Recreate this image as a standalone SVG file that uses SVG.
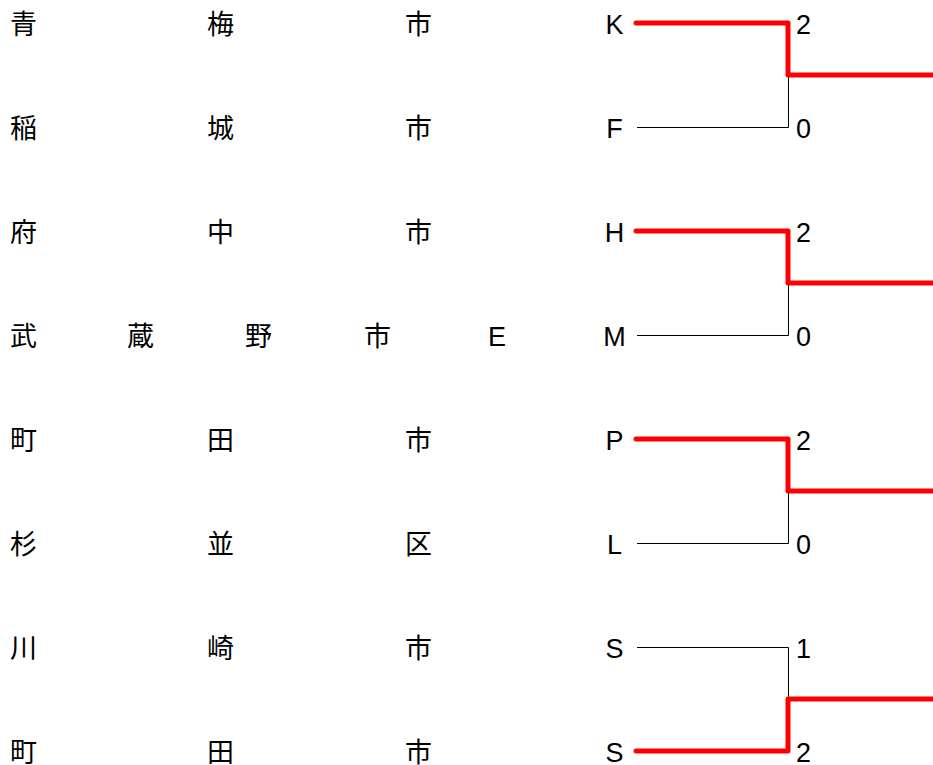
<svg xmlns="http://www.w3.org/2000/svg" width="933" height="765" viewBox="0 0 933 765">
<style>
.t{font-family:"Liberation Sans","Noto Sans CJK JP",sans-serif;font-size:27px;fill:#000}
.c{text-anchor:middle}
.w{fill:none;stroke:#ff0000;stroke-width:5;stroke-linecap:round;stroke-linejoin:round}
.l{fill:none;stroke:#000;stroke-width:1}
</style>
<rect width="933" height="765" fill="#fff"/>
<g id="connectors">
<polyline class="l" points="637,127.5 788.5,127.5 788.5,75"/>
<polyline class="w" points="636,23 788,23 788,75 933,75"/>
<polyline class="l" points="637,335.5 788.5,335.5 788.5,283"/>
<polyline class="w" points="636,231 788,231 788,283 933,283"/>
<polyline class="l" points="637,543.5 788.5,543.5 788.5,491"/>
<polyline class="w" points="636,439 788,439 788,491 933,491"/>
<polyline class="l" points="637,647.5 788.5,647.5 788.5,699"/>
<polyline class="w" points="636,751 788,751 788,699 933,699"/>
</g>
<g id="row1"><text class="t" x="10 207 405" y="34">青梅市</text><text class="t c" x="614.5" y="34">K</text><text class="t" x="796" y="34">2</text></g>
<g id="row2"><text class="t" x="10 207 405" y="138">稲城市</text><text class="t c" x="614.5" y="138">F</text><text class="t" x="796" y="138">0</text></g>
<g id="row3"><text class="t" x="10 207 405" y="242">府中市</text><text class="t c" x="614.5" y="242">H</text><text class="t" x="796" y="242">2</text></g>
<g id="row4"><text class="t" x="10 127 245 364" y="346">武蔵野市</text><text class="t c" x="497" y="346">E</text><text class="t c" x="614.5" y="346">M</text><text class="t" x="796" y="346">0</text></g>
<g id="row5"><text class="t" x="10 207 405" y="450">町田市</text><text class="t c" x="614.5" y="450">P</text><text class="t" x="796" y="450">2</text></g>
<g id="row6"><text class="t" x="10 207 405" y="554">杉並区</text><text class="t c" x="614.5" y="554">L</text><text class="t" x="796" y="554">0</text></g>
<g id="row7"><text class="t" x="10 207 405" y="658">川崎市</text><text class="t c" x="614.5" y="658">S</text><text class="t" x="796" y="658">1</text></g>
<g id="row8"><text class="t" x="10 207 405" y="762">町田市</text><text class="t c" x="614.5" y="762">S</text><text class="t" x="796" y="762">2</text></g>
</svg>
